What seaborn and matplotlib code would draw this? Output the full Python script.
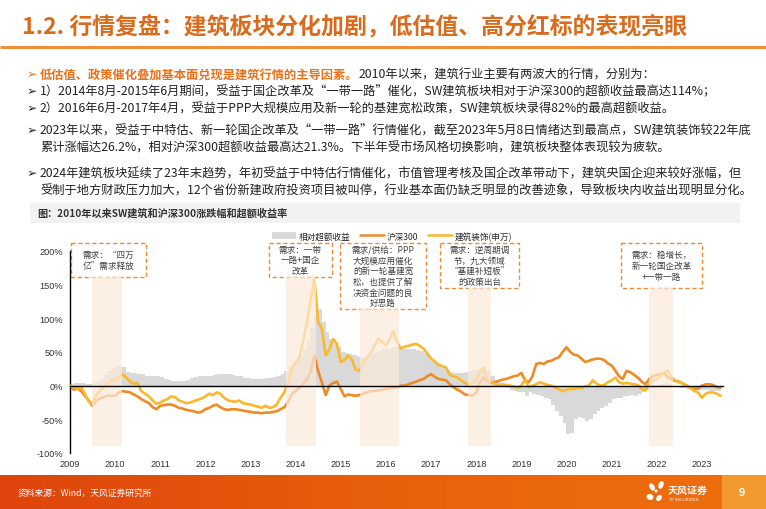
import numpy as np
import pandas as pd
import matplotlib
matplotlib.use('Agg')
import matplotlib.pyplot as plt
from matplotlib.patches import Rectangle, Patch, Ellipse
from matplotlib.lines import Line2D
from matplotlib.colors import LinearSegmentedColormap
import seaborn as sns

# ---- data (monthly) ----
months = pd.date_range('2009-01-01', periods=174, freq='MS')

jianzhu = [0, -3, -5, -2, -12, -24, -27, -14, -8, -2, 3, 7,
           9, 12, 17, 12, 6, 3, 4, -8, -12, -16, -22, -27,
           -25, -22, -20, -16, -17, -22, -24, -26, -25, -23, -21, -19,
           -16, -12, -14, -10, -12, -18, -22, -23, -24, -22, -26, -27,
           -28, -30, -31, -33, -30, -33, -32, -28, -18, -10, 5, 25,
           34, 42, 65, 93, 125, 160, 95, 84, 45, 54, 69, 62,
           35, 38, 45, 39, 24, 22, 34, 42, 49, 59, 70, 65,
           60, 69, 81, 65, 55, 58, 59, 61, 62, 59, 55, 48,
           40, 36, 31, 29, 27, 16, 14, 12, 8, 4, 2, 5,
           8, 22, 27, 10, 6, 3, 0, 2, 1, 0, -1, -3,
           0, 9, -2, 0, 2, 5, 3, 1, 0, -3, -5, -8,
           -6, -5, -5, -3, -4, -1, 0, 8, 3, 0, 1, 5,
           8, 12, 5, 3, 4, 3, 2, 1, -5, -7, 3, 7,
           10, 14, 20, 22, 12, 8, 5, 3, 0, -4, -8, -10,
           -18, -12, -10, -10, -12, -15]

hs300 = [0, -6, -4, -8, -15, -22, -30, -22, -19, -17, -15, -15,
         -15, -10, -8, -9, -10, -13, -16, -20, -23, -26, -32, -35,
         -30, -29, -28, -28, -30, -33, -34, -36, -37, -38, -40, -39,
         -35, -33, -30, -28, -32, -35, -36, -35, -35, -36, -37, -38,
         -39, -40, -40, -41, -40, -40, -39, -38, -35, -32, -24, -12,
         -8, -3, 2, 9, 20, 45, 22, 5, -14, 0, 4, 6,
         -5, -16, -13, -14, -15, -14, -12, -10, -8, -8, -7, -6,
         -5, -4, -3, -2, 0, 0, 2, 4, 6, 8, 10, 14,
         17, 13, 10, 9, 8, 2, -2, -6, -9, -13, -14, -15,
         -10, 5, 12, 6, 4, 5, 7, 9, 10, 12, 14, 15,
         19, 8, 5, 14, 32, 34, 32, 36, 37, 40, 42, 50,
         57, 50, 46, 45, 40, 35, 37, 39, 40, 40, 38, 33,
         30, 22, 14, 10, 22, 20, 16, 12, 6, 2, 10, 14,
         16, 17, 19, 12, 9, 7, 6, 3, 0, -3, -5, -4,
         0, 2, 2, 1, -2, -3]

excess = [3, 4, 4, 4, 3, 3, 4, 6, 10, 16, 22, 26,
          29, 29, 27, 20, 19, 19, 18, 18, 15, 14, 14, 14,
          13, 10, 8, 7, 7, 7, 7, 9, 11, 13, 14, 14,
          14, 15, 16, 17, 17, 17, 17, 16, 15, 14, 12, 11,
          10, 10, 10, 10, 11, 12, 13, 15, 18, 22, 27, 33,
          40, 45, 55, 68, 85, 105, 114, 95, 80, 70, 62, 57,
          50, 48, 47, 46, 44, 42, 43, 46, 48, 50, 52, 54,
          55, 56, 58, 57, 55, 54, 54, 54, 53, 52, 49, 45,
          38, 34, 30, 26, 24, 21, 19, 19, 19, 20, 22, 24,
          24, 24, 24, 22, 14, 8, 4, 0, -3, -6, -8, -9,
          -10, -15, -10, -12, -14, -15, -18, -20, -28, -38, -45, -55,
          -72, -70, -50, -46, -48, -52, -50, -42, -38, -33, -30, -25,
          -20, -19, -18, -16, -15, -14, -15, -12, -9, -7, -4, -1,
          1, 3, 4, 3, 0, -2, -3, -4, -5, -5, -6, -6,
          -7, -7, -8, -8, -8, -8]

shade_start = ['2009-07-01', '2013-10-15', '2015-06-05', '2017-10-27', '2021-10-30']
shade_end = ['2010-03-01', '2014-06-12', '2016-04-20', '2018-05-01', '2022-05-10']
shade_top = [161, 161, 114, 145, 145]

box_texts = ['需求：“四万\n亿”需求释放',
             '需求：一带\n一路+国企\n改革',
             '需求/供给：PPP\n大规模应用催化\n的新一轮基建宽\n松，也提供了解\n决资金问题的良\n好思路',
             '需求：逆周期调\n节，九大领域\n“基建补短板”\n的政策出台',
             '需求：稳增长，\n新一轮国企改革\n+一带一路']
# box extents in pixels (x0, x1, y0, y1)
box_px = [(71, 146, 244, 278), (269, 332, 244, 278), (340, 426, 244, 310),
          (440, 519, 244, 289), (621, 702, 244, 289)]

legend_labels = ['相对超额收益', '沪深300', '建筑装饰(申万)']

df = pd.DataFrame({'date': months, 'jz': jianzhu, 'hs': hs300, 'ex': excess})

C_HS = '#F08A26'
C_JZ = '#FBB82A'
C_GRAY = '#D9D9D9'
C_ORANGE = '#EE8A35'

sns.set_theme(style='white')
plt.rcParams['font.family'] = ['Noto Sans CJK SC', 'DejaVu Sans']
NUM_FONT = ['Liberation Sans', 'Noto Sans CJK SC']

W, H = 766, 510
fig = plt.figure(figsize=(W / 100, H / 100), dpi=100)
fig.patch.set_facecolor('white')

# pixel-coordinate background axes for slide decoration
bg = fig.add_axes([0, 0, 1, 1])
bg.set_xlim(0, W)
bg.set_ylim(H, 0)
bg.axis('off')

bg.text(22, 27, '1.2. 行情复盘：建筑板块分化加剧，低估值、高分红标的表现亮眼',
        fontsize=16.5, fontweight='bold', color='#DA6B1C', va='center', ha='left')
bg.plot([0, W], [48, 48], color='#F0913A', lw=2.2, solid_capstyle='butt')

# bullet text
FS = 8.8
TXT = '#222222'


def line(y, parts, arrow=True, arrow_color=TXT):
    if arrow:
        bg.text(27, y, '➢', fontsize=FS, color=arrow_color, va='center', ha='left',
                family=['DejaVu Sans'])
    prev = None
    for s, col, wt in parts:
        if prev is None:
            prev = bg.text(40, y, s, fontsize=FS, color=col, fontweight=wt,
                           va='center', ha='left')
        else:
            prev = bg.annotate(s, xy=(1, 0.5), xycoords=prev, fontsize=FS, color=col,
                               fontweight=wt, va='center', ha='left')


line(75, [('低估值、政策催化叠加基本面兑现是建筑行情的主导因素。', '#E8711C', 'bold'),
          ('2010年以来，建筑行业主要有两波大的行情，分别为：', TXT, 'normal')],
     arrow_color='#E8711C')
line(92, [('1）2014年8月-2015年6月期间，受益于国企改革及“一带一路”催化，SW建筑板块相对于沪深300的超额收益最高达114%；', TXT, 'normal')])
line(109, [('2）2016年6月-2017年4月，受益于PPP大规模应用及新一轮的基建宽松政策，SW建筑板块录得82%的最高超额收益。', TXT, 'normal')])
line(131, [('2023年以来，受益于中特估、新一轮国企改革及“一带一路”行情催化，截至2023年5月8日情绪达到最高点，SW建筑装饰较22年底', TXT, 'normal')])
line(148, [('累计涨幅达26.2%，相对沪深300超额收益最高达21.3%。下半年受市场风格切换影响，建筑板块整体表现较为疲软。', TXT, 'normal')], arrow=False)
line(174, [('2024年建筑板块延续了23年末趋势，年初受益于中特估行情催化，市值管理考核及国企改革带动下，建筑央国企迎来较好涨幅，但', TXT, 'normal')])
line(191, [('受制于地方财政压力加大，12个省份新建政府投资项目被叫停，行业基本面仍缺乏明显的改善迹象，导致板块内收益出现明显分化。', TXT, 'normal')], arrow=False)

# caption bar
bg.add_patch(Rectangle((30, 204), 710, 20, facecolor='#F2F2F2', edgecolor='none'))
bg.text(37, 214, '图：2010年以来SW建筑和沪深300涨跌幅和超额收益率', fontsize=7.3,
        fontweight='bold', color='#333333', va='center', ha='left')

# callout boxes
for (x0, x1, y0, y1), s in zip(box_px, box_texts):
    bg.add_patch(Rectangle((x0, y0), x1 - x0, y1 - y0, facecolor='white',
                           edgecolor=C_ORANGE, lw=1.0, ls=(0, (3, 2))))
    bg.text((x0 + x1) / 2, (y0 + y1) / 2, s, fontsize=6.2, color='#404040',
            ha='center', va='center', linespacing=1.25)

# footer gradient band
foot = fig.add_axes([0, 0, 1, 34 / H])
grad = np.linspace(0, 1, 256)[None, :]
cmap = LinearSegmentedColormap.from_list('foot', ['#DF440C', '#E8600C', '#EE700E'])
foot.imshow(grad, aspect='auto', cmap=cmap, extent=(0, W, 0, 34))
foot.add_patch(Rectangle((722, 0), 44, 34, facecolor='#F29A30', edgecolor='none'))
foot.set_xlim(0, W)
foot.set_ylim(0, 34)
foot.axis('off')
foot.text(18, 17, '资料来源：Wind，天风证券研究所', fontsize=6.3, color='white',
          va='center', ha='left')
foot.text(668, 19, '天风证券', fontsize=7.2, fontweight='bold', color='white',
          va='center', ha='left')
foot.text(669, 10, 'TF SECURITIES', fontsize=2.8, color='white', va='center', ha='left',
          family=NUM_FONT)
for (ex, ey, ew, eh, ang) in [(652, 22, 5, 8, 30), (661, 24, 5, 8, -20),
                              (650, 12, 6, 7, 70), (659, 11, 5, 7, -40), (656, 18, 3, 3, 0)]:
    foot.add_patch(Ellipse((ex, ey), ew, eh, angle=ang, facecolor='white', edgecolor='none'))
foot.text(742, 17, '9', fontsize=8, fontweight='bold', color='white', va='center', ha='center',
          family=NUM_FONT)

# ---- chart ----
ax = fig.add_axes([70 / W, 56 / H, 653 / W, 202 / H])
ax.patch.set_alpha(0)
ax.fill_between(df['date'], 0, df['ex'], step='post', color=C_GRAY, lw=0, zorder=1)
sns.lineplot(data=df, x='date', y='hs', color=C_HS, lw=1.9, ax=ax, legend=False, zorder=2)
sns.lineplot(data=df, x='date', y='jz', color=C_JZ, lw=1.9, ax=ax, legend=False, zorder=3)

for s0, s1, top in zip(shade_start, shade_end, shade_top):
    ax.axvspan(pd.Timestamp(s0), pd.Timestamp(s1), ymin=(-89.6 + 100) / 300,
               ymax=(top + 100) / 300, facecolor='#FBE9DA', alpha=0.72, lw=0, zorder=4)

ax.set_xlim(pd.Timestamp('2009-01-01'), pd.Timestamp('2023-06-21'))
ax.set_ylim(-100, 200)
yt = [-100, -50, 0, 50, 100, 150, 200]
years = pd.date_range('2009-01-01', '2023-01-01', freq='YS')
ax.set_xlabel('')
ax.set_ylabel('')
ax.tick_params(axis='x', direction='out', length=3, width=0.8, color='black', pad=50,
               labelsize=6.6, labelcolor='#333333', labelfontfamily='Liberation Sans')
ax.tick_params(axis='y', direction='out', length=3, width=0.8, color='black', pad=2,
               labelsize=6.6, labelcolor='#333333', labelfontfamily='Liberation Sans')
ax.set_yticks(yt)
ax.set_yticklabels([f'{v}%' for v in yt])
ax.set_xticks(years)
ax.set_xticklabels([str(d.year) for d in years])
ax.spines['top'].set_visible(False)
ax.spines['right'].set_visible(False)
ax.spines['bottom'].set_position(('data', 0))
ax.spines['bottom'].set_color('black')
ax.spines['bottom'].set_linewidth(1.0)
ax.spines['bottom'].set_zorder(5)
ax.spines['left'].set_color('black')
ax.spines['left'].set_linewidth(1.0)
ax.grid(False)

handles = [Patch(facecolor=C_GRAY, edgecolor='none'),
           Line2D([0], [0], color=C_HS, lw=1.8),
           Line2D([0], [0], color=C_JZ, lw=1.8)]
fig.legend(handles, legend_labels, loc='center left',
           bbox_to_anchor=(272 / W, 1 - 237 / H), ncol=3, frameon=False,
           fontsize=6.2, handlelength=2.8, handleheight=0.9, handletextpad=0.3,
           columnspacing=1.1, borderaxespad=0, borderpad=0)

fig.savefig('out.png', dpi=100, facecolor='white')
